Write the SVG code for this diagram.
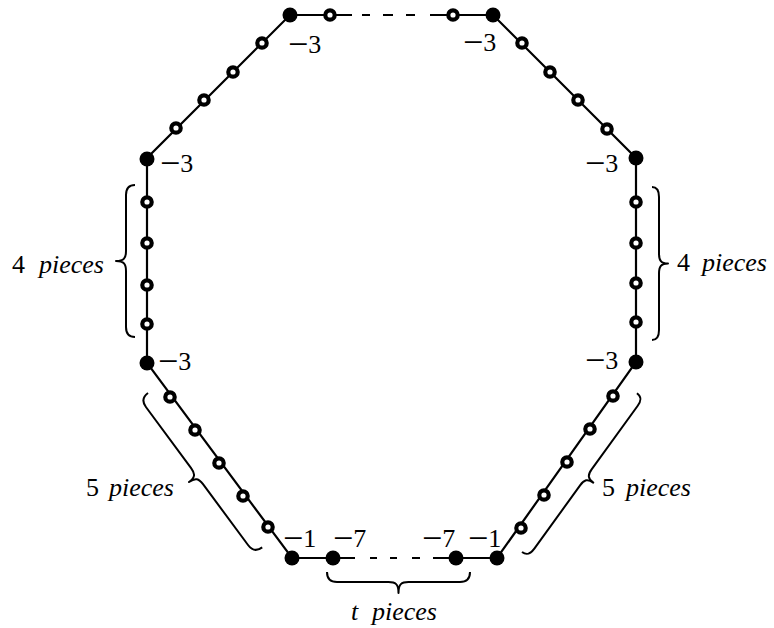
<svg xmlns="http://www.w3.org/2000/svg" width="774" height="628" viewBox="0 0 774 628">
<style>
.edge{stroke:#000;stroke-width:2.2;fill:none}
.dash{stroke:#000;stroke-width:2.2;fill:none}
.f{fill:#000}
.o{fill:#fff;stroke:#000;stroke-width:4.2}
.brace{stroke:#000;stroke-width:2;fill:none;stroke-linejoin:round}
.lbl{font-family:"Liberation Serif","Times New Roman",serif;font-size:26px;fill:#000}
.m{font-size:36px}
.it{font-style:italic}
</style>
<rect width="774" height="628" fill="#fff"/>
<g id="connectors">
  <path class="edge" d="M330,15 L352,15 M430,15 L453,15 L493,15 L636,158 L636,362 L497,558 L455,558 L433,558 M355,558 L332,558 L292,558 L147,363 L147,158 L290,15 L330,15"/>
  <path class="dash" d="M362,15 L370,15 M383,15 L393,15 M406,15 L415,15"/>
  <path class="dash" d="M370,558 L377,558 M390,558 L397,558 M412,558 L420,558"/>
</g>
<g id="braces">
  <path id="brace-left" class="brace" transform="translate(135,185) rotate(90)" d="M0,0 C0,6 3,9 10,9 L66,9 C73,9 76,11 76,19 C76,11 79,9 86,9 L142,9 C149,9 152,6 152,0"/>
  <path id="brace-right" class="brace" transform="translate(652,340) rotate(-90)" d="M0,0 C0,5 3,7 10,7 L66.5,7 C73.5,7 76.5,9 76.5,16 C76.5,9 79.5,7 86.5,7 L143,7 C150,7 153,5 153,0"/>
  <path id="brace-lowleft" class="brace" transform="translate(148,393) rotate(53.5)" d="M0,0 C0,7 3,10 10,10 L86,10 C93,10 96,12 96,20 C96,12 99,10 106,10 L182,10 C189,10 192,7 192,0"/>
  <path id="brace-lowright" class="brace" transform="translate(522,552) rotate(-54.1)" d="M0,0 C0,6 3,8 10,8 L88,8 C95,8 98,10 98,17 C98,10 101,8 108,8 L186,8 C193,8 196,6 196,0"/>
  <path id="brace-bottom" class="brace" transform="translate(327,572)" d="M0,0 C0,7 3,10 10,10 L61.5,10 C68.5,10 71.5,12 71.5,21 C71.5,12 74.5,10 81.5,10 L133,10 C140,10 143,7 143,0"/>
</g>
<g id="n-top-l"><circle class="f" cx="290" cy="15" r="7.5"/><text class="lbl" x="288" y="53"><tspan class="m" dy="3">−</tspan><tspan dy="-3">3</tspan></text></g>
<g id="n-top-lo"><circle class="o" cx="330" cy="15" r="4.7"/></g>
<g id="n-top-ro"><circle class="o" cx="453" cy="15" r="4.7"/></g>
<g id="n-top-r"><circle class="f" cx="493" cy="15" r="7.5"/><text class="lbl" x="463" y="51"><tspan class="m" dy="3">−</tspan><tspan dy="-3">3</tspan></text></g>
<g id="n-ur1"><circle class="o" cx="522" cy="43" r="4.7"/></g>
<g id="n-ur2"><circle class="o" cx="550" cy="72" r="4.7"/></g>
<g id="n-ur3"><circle class="o" cx="578" cy="100" r="4.7"/></g>
<g id="n-ur4"><circle class="o" cx="607" cy="129" r="4.7"/></g>
<g id="n-r-top"><circle class="f" cx="636" cy="158" r="7.5"/><text class="lbl" x="585" y="172"><tspan class="m" dy="3">−</tspan><tspan dy="-3">3</tspan></text></g>
<g id="n-r1"><circle class="o" cx="636" cy="202" r="4.7"/></g>
<g id="n-r2"><circle class="o" cx="636" cy="243" r="4.7"/></g>
<g id="n-r3"><circle class="o" cx="636" cy="283" r="4.7"/></g>
<g id="n-r4"><circle class="o" cx="636" cy="322" r="4.7"/></g>
<g id="n-r-bot"><circle class="f" cx="636" cy="362" r="7.5"/><text class="lbl" x="585" y="369"><tspan class="m" dy="3">−</tspan><tspan dy="-3">3</tspan></text></g>
<g id="n-lr1"><circle class="o" cx="613" cy="396" r="4.7"/></g>
<g id="n-lr2"><circle class="o" cx="590" cy="429" r="4.7"/></g>
<g id="n-lr3"><circle class="o" cx="567" cy="462" r="4.7"/></g>
<g id="n-lr4"><circle class="o" cx="544" cy="495" r="4.7"/></g>
<g id="n-lr5"><circle class="o" cx="521" cy="528" r="4.7"/></g>
<g id="n-bot-r1"><circle class="f" cx="497" cy="558" r="7.5"/><text class="lbl" x="468" y="547"><tspan class="m" dy="3">−</tspan><tspan dy="-3">1</tspan></text></g>
<g id="n-bot-r7"><circle class="f" cx="456" cy="558" r="7.5"/><text class="lbl" x="422" y="547"><tspan class="m" dy="3">−</tspan><tspan dy="-3">7</tspan></text></g>
<g id="n-bot-l7"><circle class="f" cx="333" cy="558" r="7.5"/><text class="lbl" x="333" y="547"><tspan class="m" dy="3">−</tspan><tspan dy="-3">7</tspan></text></g>
<g id="n-bot-l1"><circle class="f" cx="292" cy="558" r="7.5"/><text class="lbl" x="283" y="547"><tspan class="m" dy="3">−</tspan><tspan dy="-3">1</tspan></text></g>
<g id="n-ll5"><circle class="o" cx="268" cy="527" r="4.7"/></g>
<g id="n-ll4"><circle class="o" cx="243" cy="496" r="4.7"/></g>
<g id="n-ll3"><circle class="o" cx="219" cy="463" r="4.7"/></g>
<g id="n-ll2"><circle class="o" cx="195" cy="430" r="4.7"/></g>
<g id="n-ll1"><circle class="o" cx="170" cy="397" r="4.7"/></g>
<g id="n-l-bot"><circle class="f" cx="147" cy="363" r="7.5"/><text class="lbl" x="158" y="370"><tspan class="m" dy="3">−</tspan><tspan dy="-3">3</tspan></text></g>
<g id="n-l4"><circle class="o" cx="147" cy="324" r="4.7"/></g>
<g id="n-l3"><circle class="o" cx="147" cy="285" r="4.7"/></g>
<g id="n-l2"><circle class="o" cx="147" cy="243" r="4.7"/></g>
<g id="n-l1"><circle class="o" cx="147" cy="202" r="4.7"/></g>
<g id="n-l-top"><circle class="f" cx="147" cy="159" r="7.5"/><text class="lbl" x="160" y="172"><tspan class="m" dy="3">−</tspan><tspan dy="-3">3</tspan></text></g>
<g id="n-ul4"><circle class="o" cx="176" cy="128" r="4.7"/></g>
<g id="n-ul3"><circle class="o" cx="204" cy="100" r="4.7"/></g>
<g id="n-ul2"><circle class="o" cx="233" cy="72" r="4.7"/></g>
<g id="n-ul1"><circle class="o" cx="262" cy="43" r="4.7"/></g>
<g id="labels">
  <text class="lbl" y="273"><tspan x="12">4</tspan><tspan x="39" class="it">pieces</tspan></text>
  <text class="lbl" y="271"><tspan x="677">4</tspan><tspan x="702" class="it">pieces</tspan></text>
  <text class="lbl" y="496"><tspan x="86">5</tspan><tspan x="109" class="it">pieces</tspan></text>
  <text class="lbl" y="496"><tspan x="602">5</tspan><tspan x="626" class="it">pieces</tspan></text>
  <text class="lbl it" y="620"><tspan x="351">t</tspan><tspan x="372">pieces</tspan></text>
</g>
</svg>
